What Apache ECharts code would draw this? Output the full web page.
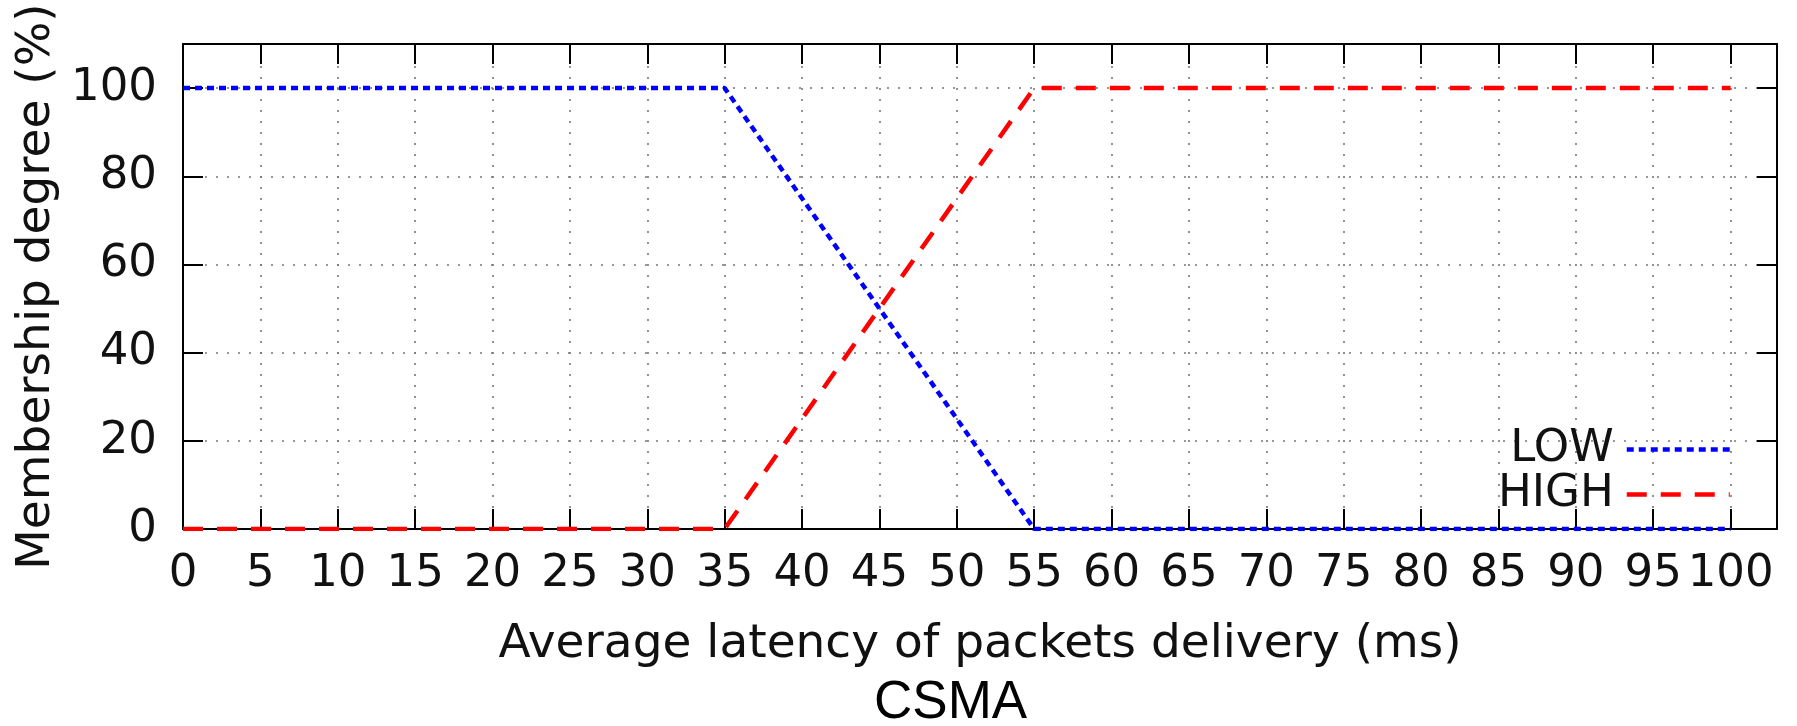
<!DOCTYPE html>
<html>
<head>
<meta charset="utf-8">
<script src="https://cdn.jsdelivr.net/npm/echarts@6/dist/echarts.min.js"></script>
<style>
  html, body { margin: 0; padding: 0; background: #fff; }
  #myChart { width: 1797px; height: 726px; }
</style>
</head>
<body>
<div id="myChart"></div>
<script>
// membership functions (x = latency in ms, y = degree in %)
var lowX = [0, 35, 55, 100]
var lowY = [100, 100, 0, 0]
var highX = [0, 35, 55, 100]
var highY = [0, 0, 100, 100]
var seriesNames = ['LOW', 'HIGH']
var xTicks = [0, 5, 10, 15, 20, 25, 30, 35, 40, 45, 50, 55, 60, 65, 70, 75, 80, 85, 90, 95, 100]
var yTicks = [0, 20, 40, 60, 80, 100]

function pairs (xs, ys) {
  return xs.map(function (x, i) { return [x, ys[i]] })
}

var font = 'DejaVu Sans'
var tick = { show: true, inside: true, length: 20, lineStyle: { color: '#000', width: 2 } }
var frame = { show: true, onZero: false, lineStyle: { color: '#000', width: 2 } }
var grid = { show: true, lineStyle: { color: '#777', width: 1.6, type: [2, 9] } }

var option = {
  animation: false,
  grid: { left: 183, right: 20, top: 44, bottom: 197, containLabel: false },
  legend: {
    orient: 'vertical',
    right: 60,
    top: 422,
    align: 'right',
    itemWidth: 103,
    itemHeight: 10,
    itemGap: 0,
    data: seriesNames,
    itemStyle: { opacity: 0 },
    lineStyle: { width: 4.5 },
    textStyle: { fontFamily: font, fontSize: 45, color: '#111', lineHeight: 45, padding: [0, 8, 0, 0] }
  },
  xAxis: [
    {
      type: 'value', min: 0, max: 103, interval: 5,
      axisLine: frame, axisTick: tick, splitLine: grid,
      axisLabel: {
        margin: 23, fontFamily: font, fontSize: 45, color: '#111',
        formatter: function (v) { return xTicks.indexOf(v) >= 0 ? String(v) : '' }
      },
      name: 'Average latency of packets delivery (ms)',
      nameLocation: 'middle', nameGap: 92,
      nameTextStyle: { fontFamily: font, fontSize: 47, color: '#111' }
    },
    {
      type: 'value', min: 0, max: 103, interval: 5, position: 'top',
      axisLine: frame, axisTick: tick, splitLine: { show: false }, axisLabel: { show: false }
    }
  ],
  yAxis: [
    {
      type: 'value', min: 0, max: 110, interval: 20,
      axisLine: frame, axisTick: tick, splitLine: grid,
      axisLabel: {
        margin: 26, fontFamily: font, fontSize: 45, color: '#111',
        formatter: function (v) { return yTicks.indexOf(v) >= 0 ? String(v) : '' }
      },
      name: 'Membership degree (%)',
      nameLocation: 'middle', nameGap: 122,
      nameTextStyle: { fontFamily: font, fontSize: 47, color: '#111' }
    },
    {
      type: 'value', min: 0, max: 110, interval: 20, position: 'right',
      axisLine: frame, axisTick: tick, splitLine: { show: false }, axisLabel: { show: false }
    }
  ],
  graphic: [
    {
      type: 'text', left: 874, top: 677,
      style: { text: 'CSMA', fontFamily: 'Liberation Sans', fontSize: 53, fill: '#000' }
    }
  ],
  series: [
    {
      name: seriesNames[0], type: 'line', symbol: 'none', z: 3,
      color: '#0000ff',
      lineStyle: { color: '#0000ff', width: 4.5, type: [7, 5] },
      data: pairs(lowX, lowY)
    },
    {
      name: seriesNames[1], type: 'line', symbol: 'none', z: 4,
      color: '#ff0000',
      lineStyle: { color: '#ff0000', width: 4.5, type: [20, 14] },
      data: pairs(highX, highY)
    }
  ]
}

var myChart = echarts.init(document.getElementById('myChart'))
myChart.setOption(option)
window.onresize = myChart.resize
</script>
</body>
</html>
